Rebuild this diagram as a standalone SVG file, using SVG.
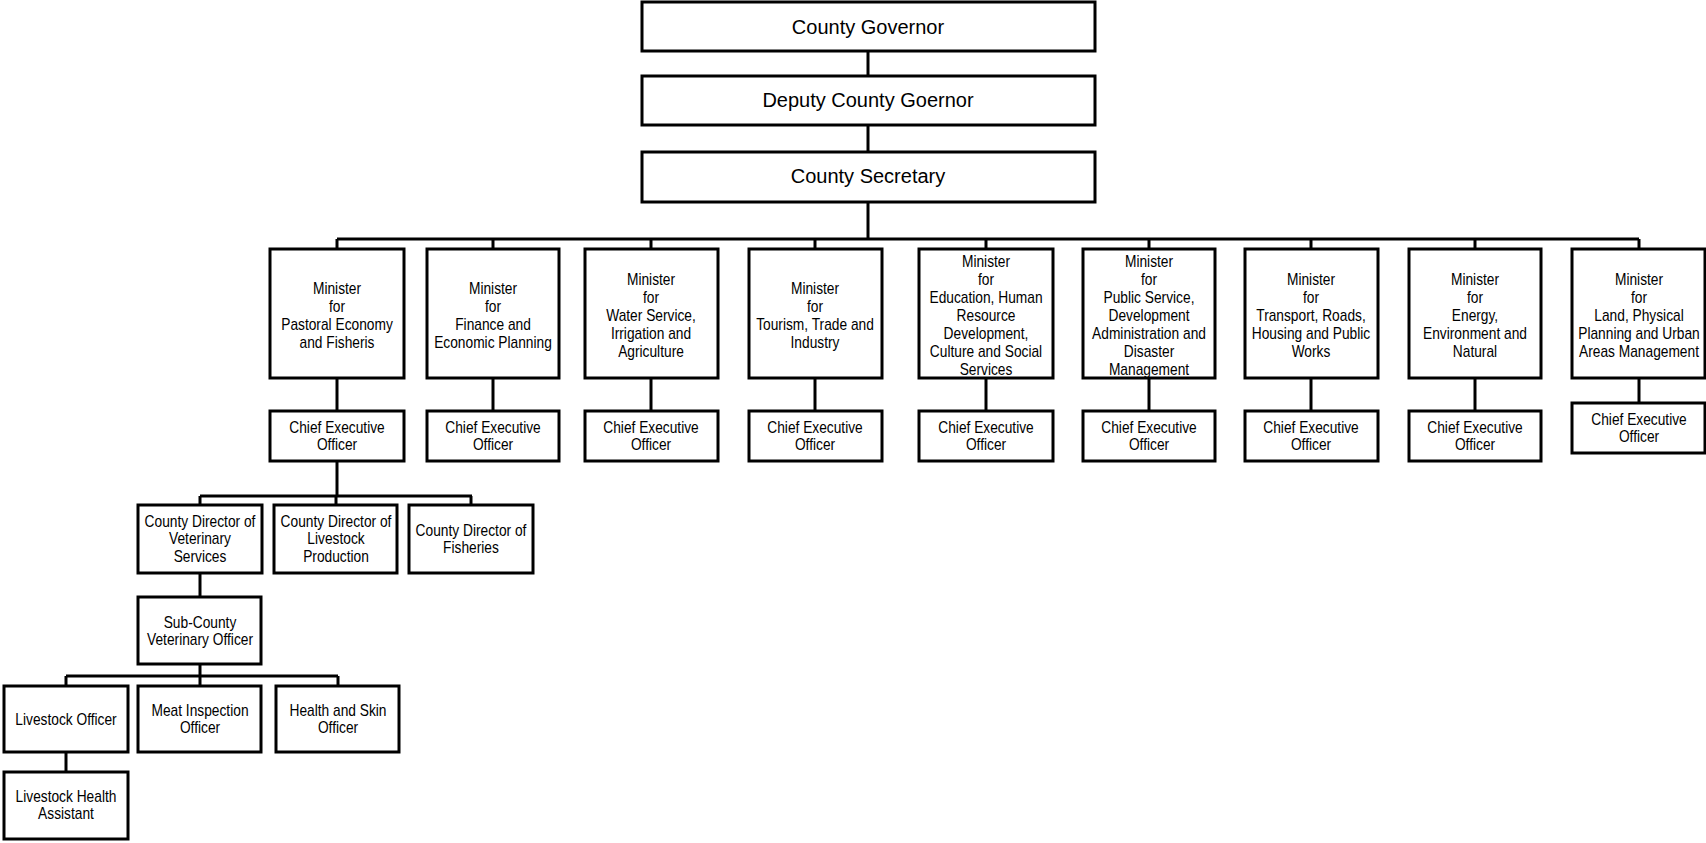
<svg xmlns="http://www.w3.org/2000/svg" width="1706" height="843" viewBox="0 0 1706 843">
<style>
.b{fill:#fff;stroke:#000;stroke-width:3}
.c line{stroke:#000;stroke-width:3}
.t{font-family:"Liberation Sans",Arial,sans-serif;font-size:16px;text-anchor:middle;fill:#000}
.T{font-family:"Liberation Sans",Arial,sans-serif;font-size:20px;text-anchor:middle;fill:#000}
</style>
<rect width="1706" height="843" fill="#fff"/>
<g class="c" id="connectors">
<line x1="868" y1="51" x2="868" y2="76"/>
<line x1="868" y1="125" x2="868" y2="152"/>
<line x1="868" y1="202" x2="868" y2="239"/>
<line x1="337" y1="239" x2="1639" y2="239"/>
<line x1="337" y1="239" x2="337" y2="249"/>
<line x1="493" y1="239" x2="493" y2="249"/>
<line x1="651" y1="239" x2="651" y2="249"/>
<line x1="815" y1="239" x2="815" y2="249"/>
<line x1="986" y1="239" x2="986" y2="249"/>
<line x1="1149" y1="239" x2="1149" y2="249"/>
<line x1="1311" y1="239" x2="1311" y2="249"/>
<line x1="1475" y1="239" x2="1475" y2="249"/>
<line x1="1639" y1="239" x2="1639" y2="249"/>
<line x1="337" y1="378" x2="337" y2="411"/>
<line x1="493" y1="378" x2="493" y2="411"/>
<line x1="651" y1="378" x2="651" y2="411"/>
<line x1="815" y1="378" x2="815" y2="411"/>
<line x1="986" y1="378" x2="986" y2="411"/>
<line x1="1149" y1="378" x2="1149" y2="411"/>
<line x1="1311" y1="378" x2="1311" y2="411"/>
<line x1="1475" y1="378" x2="1475" y2="411"/>
<line x1="1639" y1="378" x2="1639" y2="403"/>
<line x1="337" y1="461" x2="337" y2="496"/>
<line x1="200" y1="496" x2="472" y2="496"/>
<line x1="200" y1="496" x2="200" y2="505"/>
<line x1="336" y1="496" x2="336" y2="505"/>
<line x1="471" y1="496" x2="471" y2="505"/>
<line x1="200" y1="573" x2="200" y2="597"/>
<line x1="200" y1="664" x2="200" y2="686"/>
<line x1="66" y1="676" x2="338" y2="676"/>
<line x1="66" y1="676" x2="66" y2="686"/>
<line x1="338" y1="676" x2="338" y2="686"/>
<line x1="66" y1="752" x2="66" y2="772"/>
</g>
<g id="gov"><rect class="b" x="642" y="2" width="453" height="49"/><text class="T" x="868" y="34">County Governor</text></g>
<g id="deputy"><rect class="b" x="642" y="76" width="453" height="49"/><text class="T" x="868" y="107">Deputy County Goernor</text></g>
<g id="secretary"><rect class="b" x="642" y="152" width="453" height="50"/><text class="T" x="868" y="183">County Secretary</text></g>

<g id="min1"><rect class="b" x="270" y="249" width="134" height="129"/><text class="t" transform="translate(337 0) scale(0.86 1)" x="0" y="294">Minister<tspan x="0" dy="18">for</tspan><tspan x="0" dy="18">Pastoral Economy</tspan><tspan x="0" dy="18">and Fisheris</tspan></text></g>
<g id="min2"><rect class="b" x="427" y="249" width="132" height="129"/><text class="t" transform="translate(493 0) scale(0.86 1)" x="0" y="294">Minister<tspan x="0" dy="18">for</tspan><tspan x="0" dy="18">Finance and</tspan><tspan x="0" dy="18">Economic Planning</tspan></text></g>
<g id="min3"><rect class="b" x="585" y="249" width="133" height="129"/><text class="t" transform="translate(651 0) scale(0.86 1)" x="0" y="285">Minister<tspan x="0" dy="18">for</tspan><tspan x="0" dy="18">Water Service,</tspan><tspan x="0" dy="18">Irrigation and</tspan><tspan x="0" dy="18">Agriculture</tspan></text></g>
<g id="min4"><rect class="b" x="749" y="249" width="133" height="129"/><text class="t" transform="translate(815 0) scale(0.86 1)" x="0" y="294">Minister<tspan x="0" dy="18">for</tspan><tspan x="0" dy="18">Tourism, Trade and</tspan><tspan x="0" dy="18">Industry</tspan></text></g>
<g id="min5"><rect class="b" x="919" y="249" width="134" height="129"/><text class="t" transform="translate(986 0) scale(0.86 1)" x="0" y="267">Minister<tspan x="0" dy="18">for</tspan><tspan x="0" dy="18">Education, Human</tspan><tspan x="0" dy="18">Resource</tspan><tspan x="0" dy="18">Development,</tspan><tspan x="0" dy="18">Culture and Social</tspan><tspan x="0" dy="18">Services</tspan></text></g>
<g id="min6"><rect class="b" x="1083" y="249" width="132" height="129"/><text class="t" transform="translate(1149 0) scale(0.86 1)" x="0" y="267">Minister<tspan x="0" dy="18">for</tspan><tspan x="0" dy="18">Public Service,</tspan><tspan x="0" dy="18">Development</tspan><tspan x="0" dy="18">Administration and</tspan><tspan x="0" dy="18">Disaster</tspan><tspan x="0" dy="18">Management</tspan></text></g>
<g id="min7"><rect class="b" x="1245" y="249" width="133" height="129"/><text class="t" transform="translate(1311 0) scale(0.86 1)" x="0" y="285">Minister<tspan x="0" dy="18">for</tspan><tspan x="0" dy="18">Transport, Roads,</tspan><tspan x="0" dy="18">Housing and Public</tspan><tspan x="0" dy="18">Works</tspan></text></g>
<g id="min8"><rect class="b" x="1409" y="249" width="132" height="129"/><text class="t" transform="translate(1475 0) scale(0.86 1)" x="0" y="285">Minister<tspan x="0" dy="18">for</tspan><tspan x="0" dy="18">Energy,</tspan><tspan x="0" dy="18">Environment and</tspan><tspan x="0" dy="18">Natural</tspan></text></g>
<g id="min9"><rect class="b" x="1572" y="249" width="133" height="129"/><text class="t" transform="translate(1639 0) scale(0.86 1)" x="0" y="285">Minister<tspan x="0" dy="18">for</tspan><tspan x="0" dy="18">Land, Physical</tspan><tspan x="0" dy="18">Planning and Urban</tspan><tspan x="0" dy="18">Areas Management</tspan></text></g>

<g id="ceo1"><rect class="b" x="270" y="411" width="134" height="50"/><text class="t" transform="translate(337 0) scale(0.86 1)" x="0" y="433">Chief Executive<tspan x="0" dy="17">Officer</tspan></text></g>
<g id="ceo2"><rect class="b" x="427" y="411" width="132" height="50"/><text class="t" transform="translate(493 0) scale(0.86 1)" x="0" y="433">Chief Executive<tspan x="0" dy="17">Officer</tspan></text></g>
<g id="ceo3"><rect class="b" x="585" y="411" width="133" height="50"/><text class="t" transform="translate(651 0) scale(0.86 1)" x="0" y="433">Chief Executive<tspan x="0" dy="17">Officer</tspan></text></g>
<g id="ceo4"><rect class="b" x="749" y="411" width="133" height="50"/><text class="t" transform="translate(815 0) scale(0.86 1)" x="0" y="433">Chief Executive<tspan x="0" dy="17">Officer</tspan></text></g>
<g id="ceo5"><rect class="b" x="919" y="411" width="134" height="50"/><text class="t" transform="translate(986 0) scale(0.86 1)" x="0" y="433">Chief Executive<tspan x="0" dy="17">Officer</tspan></text></g>
<g id="ceo6"><rect class="b" x="1083" y="411" width="132" height="50"/><text class="t" transform="translate(1149 0) scale(0.86 1)" x="0" y="433">Chief Executive<tspan x="0" dy="17">Officer</tspan></text></g>
<g id="ceo7"><rect class="b" x="1245" y="411" width="133" height="50"/><text class="t" transform="translate(1311 0) scale(0.86 1)" x="0" y="433">Chief Executive<tspan x="0" dy="17">Officer</tspan></text></g>
<g id="ceo8"><rect class="b" x="1409" y="411" width="132" height="50"/><text class="t" transform="translate(1475 0) scale(0.86 1)" x="0" y="433">Chief Executive<tspan x="0" dy="17">Officer</tspan></text></g>
<g id="ceo9"><rect class="b" x="1572" y="403" width="133" height="50"/><text class="t" transform="translate(1639 0) scale(0.86 1)" x="0" y="425">Chief Executive<tspan x="0" dy="17">Officer</tspan></text></g>

<g id="cdvet"><rect class="b" x="138" y="505" width="124" height="68"/><text class="t" transform="translate(200 0) scale(0.86 1)" x="0" y="527">County Director of<tspan x="0" dy="17.5">Veterinary</tspan><tspan x="0" dy="17.5">Services</tspan></text></g>
<g id="cdlive"><rect class="b" x="274" y="505" width="123" height="68"/><text class="t" transform="translate(336 0) scale(0.86 1)" x="0" y="527">County Director of<tspan x="0" dy="17.5">Livestock</tspan><tspan x="0" dy="17.5">Production</tspan></text></g>
<g id="cdfish"><rect class="b" x="409" y="505" width="124" height="68"/><text class="t" transform="translate(471 0) scale(0.86 1)" x="0" y="536">County Director of<tspan x="0" dy="17">Fisheries</tspan></text></g>
<g id="subcounty"><rect class="b" x="138" y="597" width="123" height="67"/><text class="t" transform="translate(200 0) scale(0.86 1)" x="0" y="628">Sub-County<tspan x="0" dy="17">Veterinary Officer</tspan></text></g>
<g id="livestock"><rect class="b" x="4" y="686" width="124" height="66"/><text class="t" transform="translate(66 0) scale(0.86 1)" x="0" y="725">Livestock Officer</text></g>
<g id="meat"><rect class="b" x="138" y="686" width="123" height="66"/><text class="t" transform="translate(200 0) scale(0.86 1)" x="0" y="716">Meat Inspection<tspan x="0" dy="17">Officer</tspan></text></g>
<g id="skin"><rect class="b" x="276" y="686" width="123" height="66"/><text class="t" transform="translate(338 0) scale(0.86 1)" x="0" y="716">Health and Skin<tspan x="0" dy="17">Officer</tspan></text></g>
<g id="lha"><rect class="b" x="4" y="772" width="124" height="67"/><text class="t" transform="translate(66 0) scale(0.86 1)" x="0" y="802">Livestock Health<tspan x="0" dy="17">Assistant</tspan></text></g>
</svg>
